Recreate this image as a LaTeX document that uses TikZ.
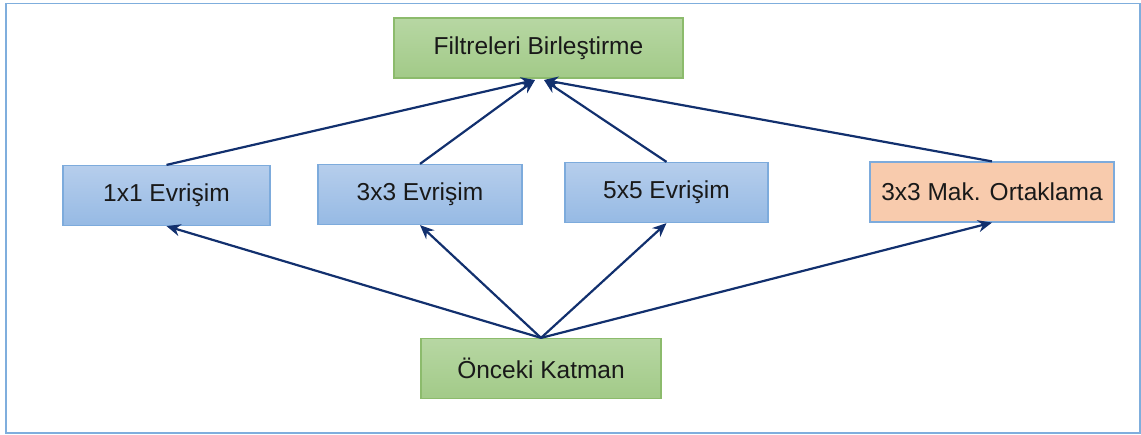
\documentclass[tikz,border=0pt]{standalone}
\usepackage{fontspec}
\setmainfont{Liberation Sans}
\usetikzlibrary{arrows.meta}
\definecolor{frameblue}{HTML}{7FAEDD}
\definecolor{greentop}{HTML}{B7D7A3}
\definecolor{greenbot}{HTML}{A2CA88}
\definecolor{greenedge}{HTML}{8CBB6C}
\definecolor{bluetop}{HTML}{B6CEEC}
\definecolor{bluebot}{HTML}{96BAE4}
\definecolor{blueedge}{HTML}{7DABDC}
\definecolor{orangefill}{HTML}{F8CBAD}
\definecolor{navy}{HTML}{12306E}
\tikzset{
  x=1pt, y=-1pt,
  box/.style={rectangle, minimum height=#1, inner sep=0pt,
    font=\fontsize{24.5}{28}\selectfont, text=black!90, line width=1.2pt},
  greenbox/.style={box=60pt, draw=greenedge, top color=greentop, bottom color=greenbot},
  bluebox/.style={box=60pt, draw=blueedge, top color=bluetop, bottom color=bluebot},
  orangebox/.style={box=60pt, draw=blueedge, fill=orangefill},
  link/.style={draw=navy, line width=2.2pt, -{Stealth[length=14pt,width=12pt]}},
}
\begin{document}
\begin{tikzpicture}
\useasboundingbox (0,0) rectangle (1141,435);
% outer frame
\draw[frameblue, line width=1.8pt] (6,3.5) rectangle (1140,433);

% nodes
\node[greenbox, minimum width=289pt] (merge) at (538.5,48) {Filtreleri Birleştirme};
\node[bluebox, minimum width=207pt] (c1) at (166.5,195.5) {1x1 Evrişim};
\node[bluebox, minimum width=204pt] (c3) at (420,194.5) {3x3 Evrişim};
\node[bluebox, minimum width=203pt] (c5) at (666.5,192.5) {5x5 Evrişim};
\node[orangebox, minimum width=244pt] (pool) at (992,192) {3x3 Mak. Ortaklama};
\node[greenbox, minimum width=240pt] (prev) at (541,368.5) {Önceki Katman};

% arrow targets under the merge box
\coordinate (ml) at (535,80);
\coordinate (mr) at (544,80);

% upward connectors to the merge box
\draw[link] (c1.north) -- (ml);
\draw[link] (c3.north) -- (ml);
\draw[link] (c5.north) -- (mr);
\draw[link] (pool.north) -- (mr);

% connectors from the previous layer
\draw[link] (prev.north) -- (c1.south);
\draw[link] (prev.north) -- (c3.south);
\draw[link] (prev.north) -- (c5.south);
\draw[link] (prev.north) -- (pool.south);
\end{tikzpicture}
\end{document}
